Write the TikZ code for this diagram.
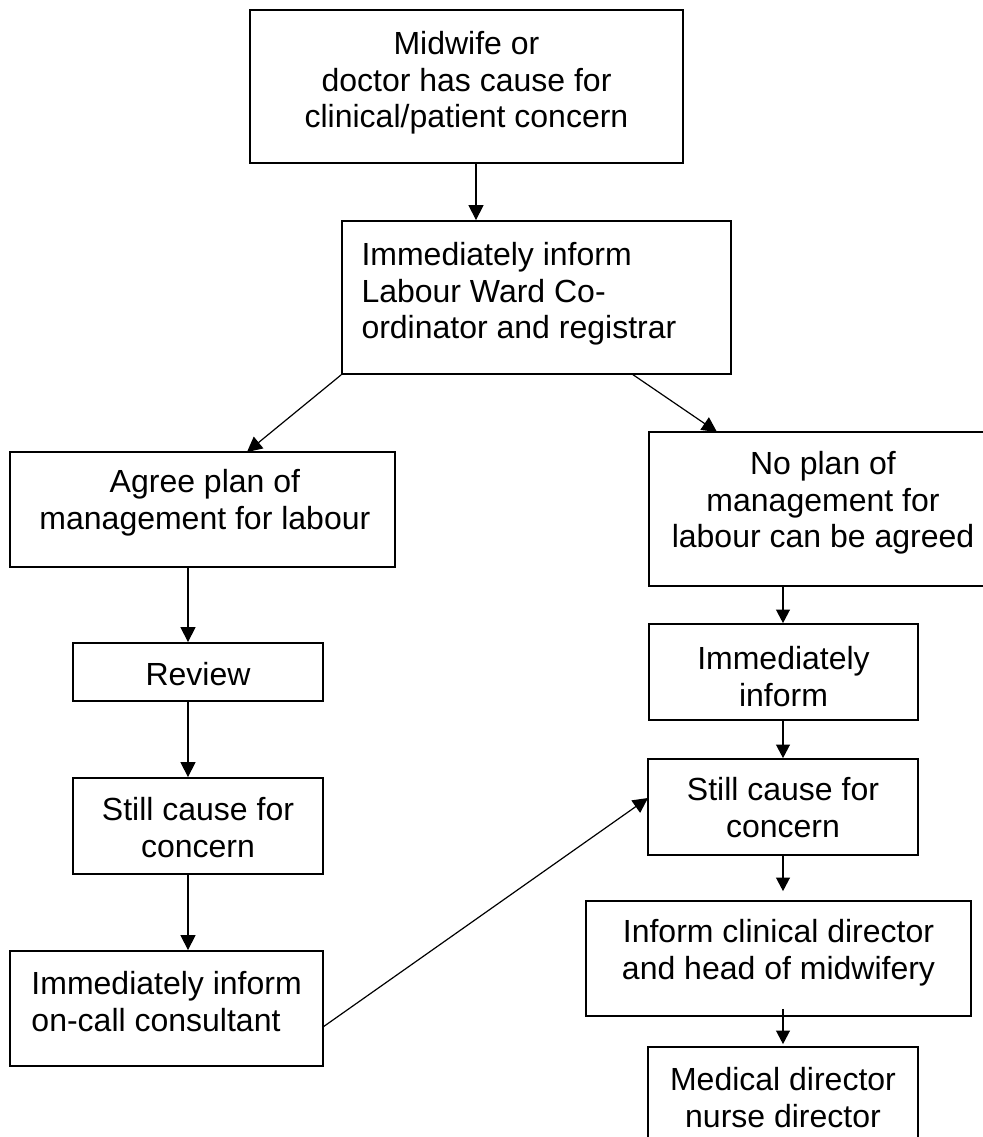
\documentclass[tikz,border=0pt]{standalone}
\usepackage{fontspec}
\setmainfont{Liberation Sans}
\usetikzlibrary{arrows.meta,fit}
\tikzset{
  box/.style={draw=black, line width=0.9pt, inner sep=0pt, rectangle},
  txt/.style={inner sep=0pt, align=center, font=\fontsize{16}{18.3}\selectfont},
  txtl/.style={inner sep=0pt, align=left, font=\fontsize{16}{18.3}\selectfont},
  arr/.style={draw=black, line width=0.6pt, -{Triangle[length=7.5pt,width=7.5pt]}},
  arrs/.style={draw=black, line width=0.6pt, -{Triangle[length=6.8pt,width=7pt]}}
}
\begin{document}
\begin{tikzpicture}[x=0.5pt,y=-0.5pt]
\useasboundingbox (0,0) rectangle (983,1137);
\fill[white] (0,0) rectangle (983,1137);
\clip (0,0) rectangle (983,1137);

% boxes
\node[box, fit={(250,10) (683,163)}] (b1) {};
\node[box, fit={(342,221) (731,374)}] (b2) {};
\node[box, fit={(10,452) (395,567)}] (ag) {};
\node[box, fit={(649,432) (997,586)}] (np) {};
\node[box, fit={(73,643) (323,701)}] (rev) {};
\node[box, fit={(649,624) (918,720)}] (im) {};
\node[box, fit={(73,778) (323,874)}] (sl) {};
\node[box, fit={(648,759) (918,855)}] (sr) {};
\node[box, fit={(10,951) (323,1066)}] (oc) {};
\node[box, fit={(586,901) (971,1016)}] (icd) {};
\node[box, fit={(648,1047) (918,1170)}] (md) {};

% texts
\node[txt, anchor=north] (b1t) at ([yshift=-11pt]b1.north) {Midwife or\\doctor has cause for\\clinical/patient concern};
\node[txtl, anchor=north west] (b2t) at ([xshift=10pt,yshift=-11pt]b2.north west) {Immediately inform\\Labour Ward Co-\\ordinator and registrar};
\node[txt, anchor=north] (agt) at ([xshift=1.2pt,yshift=-9pt]ag.north) {Agree plan of\\management for labour};
\node[txt, anchor=north] (npt) at ([yshift=-10pt]np.north) {No plan of\\management for\\labour can be agreed};
\node[txt, anchor=north] (revt) at ([yshift=-10pt]rev.north) {Review};
\node[txt, anchor=north] (imt) at ([yshift=-11.5pt]im.north) {Immediately\\inform};
\node[txt, anchor=north] (slt) at ([yshift=-10pt]sl.north) {Still cause for\\concern};
\node[txtl, anchor=north west] (oct) at ([xshift=11pt,yshift=-10.5pt]oc.north west) {Immediately inform\\on-call consultant};
\node[txt, anchor=north] (srt) at ([yshift=-9.5pt]sr.north) {Still cause for\\concern};
\node[txt, anchor=north] (icdt) at ([yshift=-9.5pt]icd.north) {Inform clinical director\\and head of midwifery};
\node[txt, anchor=north] (mdt) at ([yshift=-10.5pt]md.north) {Medical director\\nurse director};

% connector anchors
\coordinate (tx) at (476,0);
\coordinate (lx) at (188,0);
\coordinate (rx) at (783,0);
\coordinate (agin) at (247,452);
\coordinate (b2out) at (632,374);
\coordinate (npin) at (717,432);
\coordinate (ocout) at (323,1027);
\coordinate (srin) at (648,798);

% connectors
\draw[arr] (b1.south -| tx) -- (b2.north -| tx);
\draw[arr] (b2.south west) -- (agin);
\draw[arr] (b2out) -- (npin);
\draw[arr] (ag.south -| lx) -- (rev.north -| lx);
\draw[arr] (rev.south -| lx) -- (sl.north -| lx);
\draw[arr] (sl.south -| lx) -- (oc.north -| lx);
\draw[arrs] (np.south -| rx) -- (im.north -| rx);
\draw[arrs] (im.south -| rx) -- (sr.north -| rx);
\draw[arrs, shorten >=4.5pt] (sr.south -| rx) -- (icd.north -| rx);
\draw[arrs, shorten <=-4pt, shorten >=1pt] (icd.south -| rx) -- (md.north -| rx);
\draw[arr] (ocout) -- (srin);
\end{tikzpicture}
\end{document}
